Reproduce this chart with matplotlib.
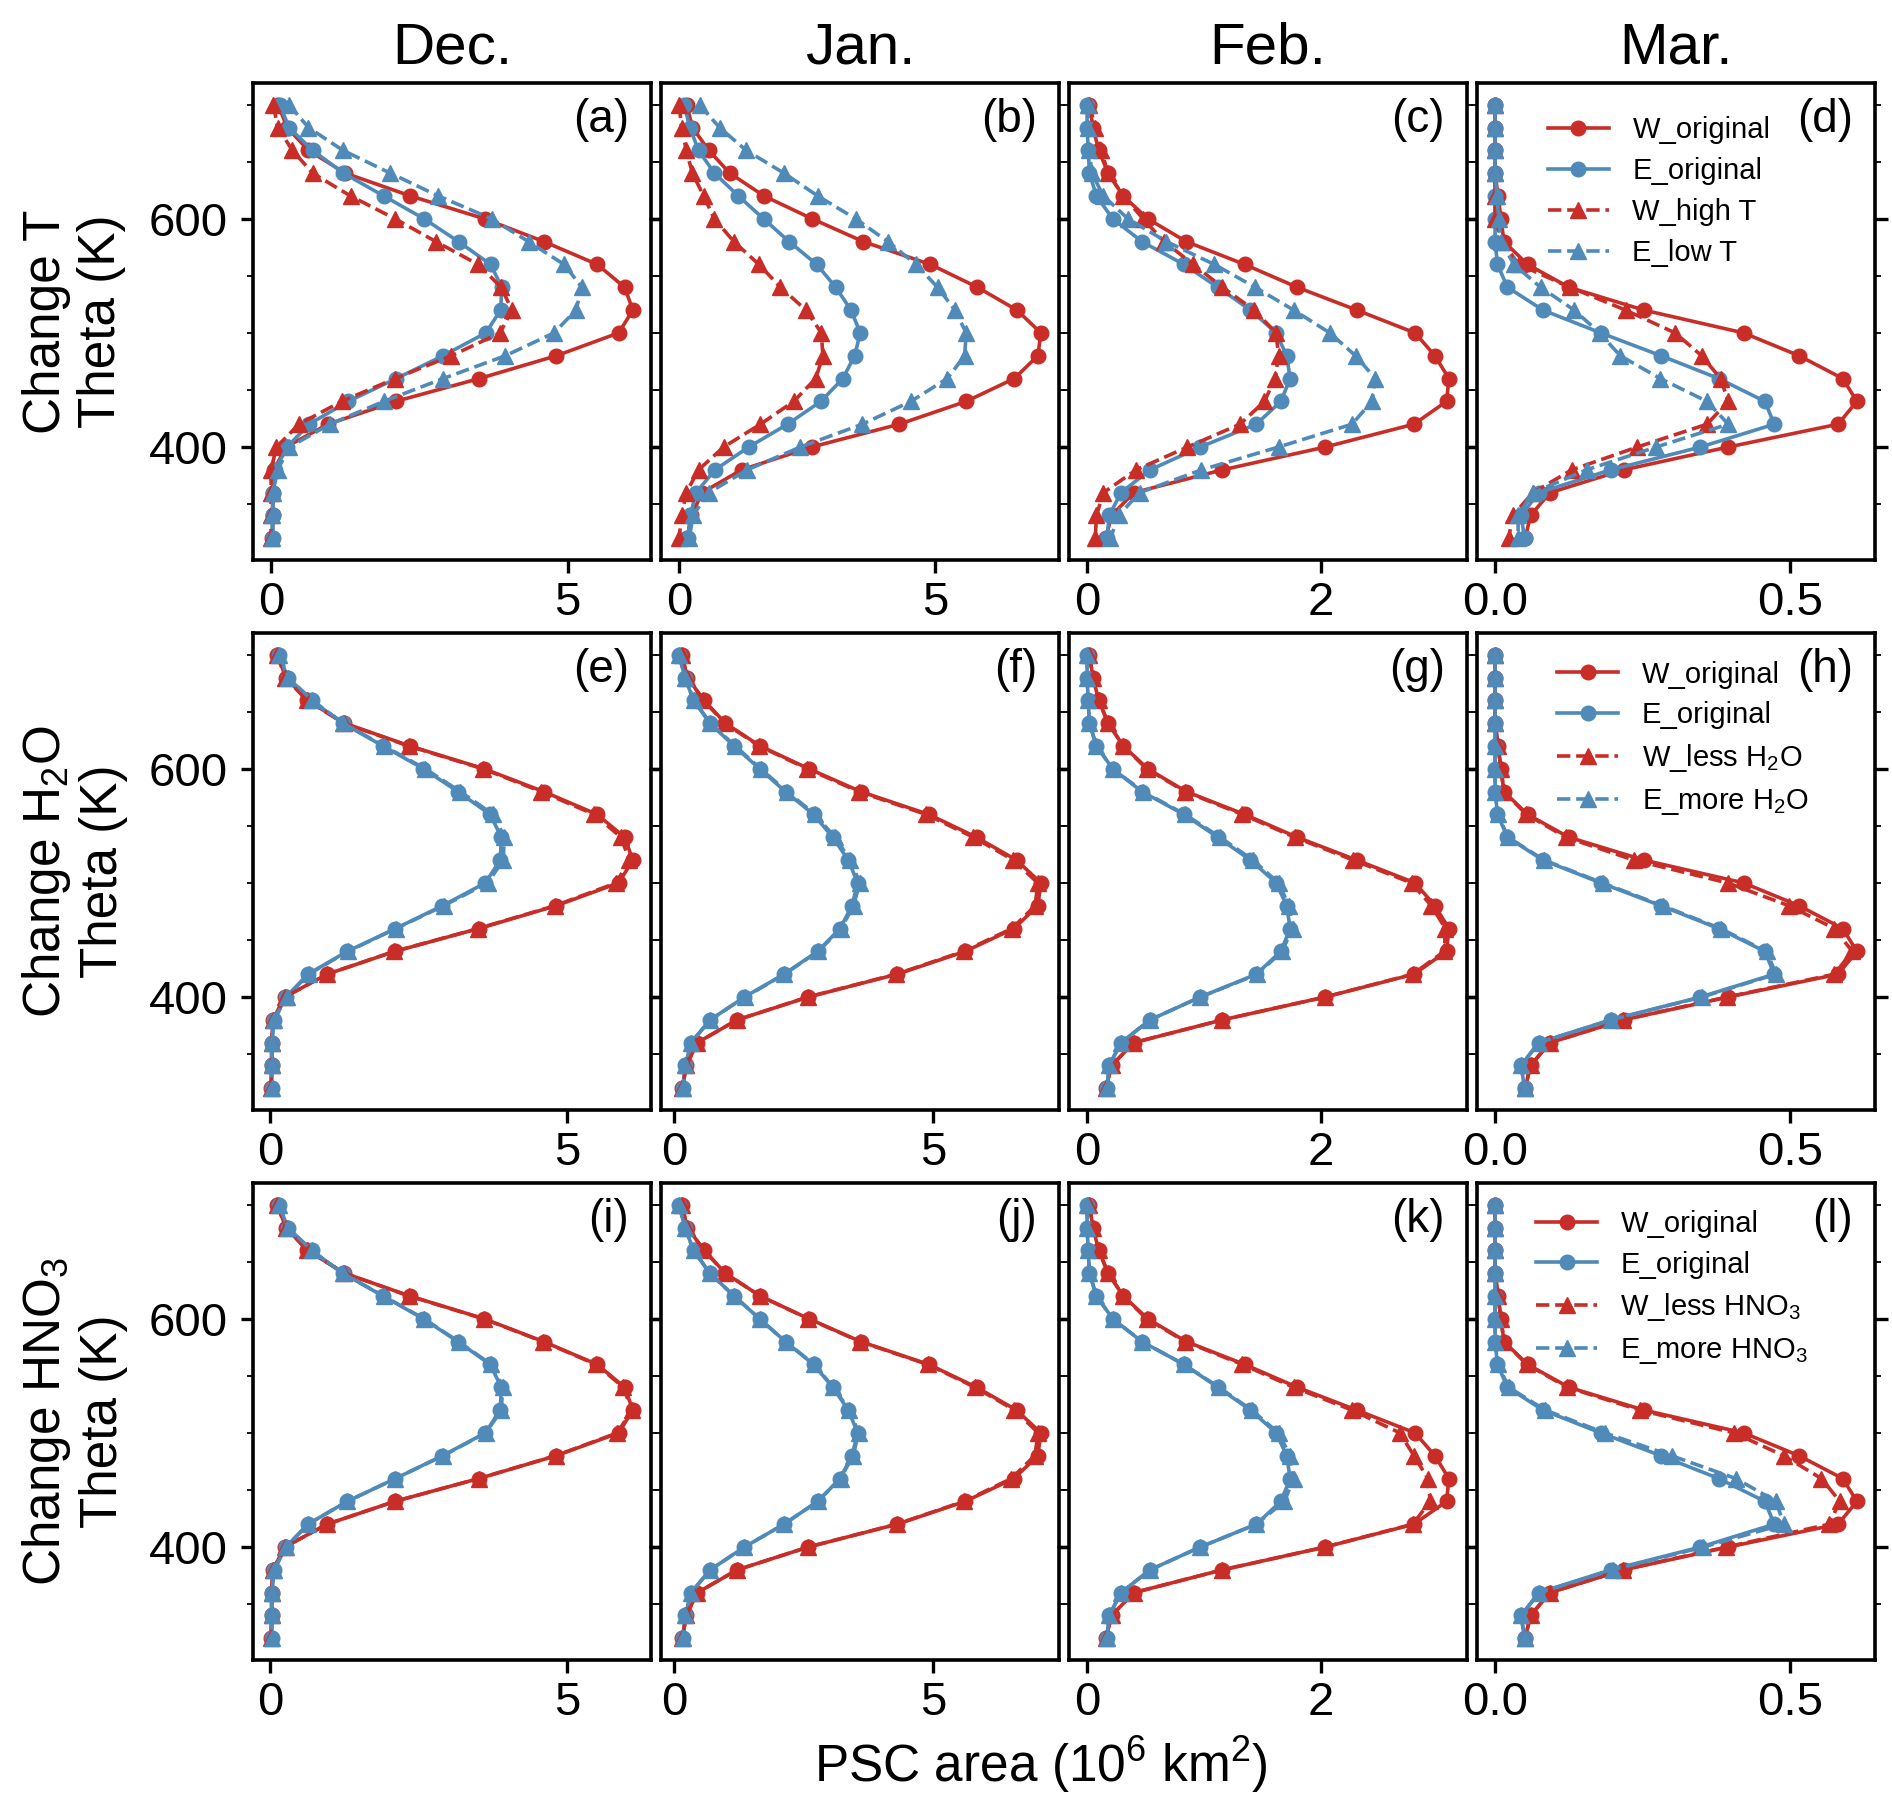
import numpy as np
import matplotlib.pyplot as plt
from matplotlib.ticker import MultipleLocator

plt.rcParams['font.family'] = ['Liberation Sans', 'DejaVu Sans']
plt.rcParams['mathtext.fontset'] = 'custom'
plt.rcParams['mathtext.rm'] = 'Liberation Sans'
plt.rcParams['mathtext.it'] = 'Liberation Sans:italic'
plt.rcParams['mathtext.default'] = 'regular'

# potential temperature levels (K), top to bottom
theta = [700, 680, 660, 640, 620, 600, 580, 560, 540, 520,
         500, 480, 460, 440, 420, 400, 380, 360, 340, 320]

months = ['Dec.', 'Jan.', 'Feb.', 'Mar.']
panel_tags = ['(a)', '(b)', '(c)', '(d)', '(e)', '(f)', '(g)', '(h)',
              '(i)', '(j)', '(k)', '(l)']
row_labels = ['Change T\nTheta (K)', 'Change H$_2$O\nTheta (K)',
              'Change HNO$_3$\nTheta (K)']
w_mod_labels = ['W_high T', 'W_less H$_2$O', 'W_less HNO$_3$']
e_mod_labels = ['E_low T', 'E_more H$_2$O', 'E_more HNO$_3$']
x_steps = [5, 5, 2, 0.5]

# PSC area (10^6 km^2)
dec_w_orig = [0.12, 0.27, 0.63, 1.25, 2.35, 3.60, 4.60, 5.50, 5.96, 6.10, 5.86, 4.81, 3.51, 2.10, 0.96, 0.25, 0.05, 0.03, 0.03, 0.02]
dec_e_orig = [0.15, 0.30, 0.70, 1.22, 1.90, 2.58, 3.16, 3.70, 3.89, 3.87, 3.62, 2.90, 2.11, 1.30, 0.64, 0.27, 0.07, 0.03, 0.03, 0.03]
dec_w_high_t = [0.04, 0.11, 0.36, 0.70, 1.34, 2.09, 2.78, 3.49, 3.88, 4.06, 3.86, 3.04, 2.09, 1.19, 0.47, 0.09, 0.00, 0.00, 0.00, 0.00]
dec_e_low_t = [0.30, 0.63, 1.21, 2.01, 2.82, 3.72, 4.34, 4.94, 5.24, 5.14, 4.77, 3.95, 2.90, 1.90, 0.99, 0.31, 0.11, 0.03, 0.02, 0.02]
dec_w_less_h2o = [0.12, 0.26, 0.62, 1.24, 2.33, 3.58, 4.56, 5.45, 5.90, 6.04, 5.82, 4.79, 3.50, 2.09, 0.96, 0.25, 0.05, 0.03, 0.03, 0.02]
dec_e_more_h2o = [0.16, 0.31, 0.71, 1.23, 1.92, 2.61, 3.20, 3.75, 3.94, 3.92, 3.66, 2.92, 2.12, 1.31, 0.65, 0.28, 0.07, 0.03, 0.03, 0.03]
dec_w_less_hno3 = [0.12, 0.27, 0.63, 1.25, 2.34, 3.59, 4.59, 5.48, 5.94, 6.08, 5.84, 4.80, 3.51, 2.10, 0.96, 0.25, 0.05, 0.03, 0.03, 0.02]
dec_e_more_hno3 = [0.15, 0.30, 0.70, 1.22, 1.91, 2.59, 3.17, 3.72, 3.91, 3.89, 3.63, 2.91, 2.11, 1.30, 0.64, 0.27, 0.07, 0.03, 0.03, 0.03]

jan_w_orig = [0.15, 0.26, 0.58, 0.99, 1.66, 2.60, 3.60, 4.91, 5.83, 6.60, 7.07, 7.01, 6.55, 5.61, 4.30, 2.59, 1.22, 0.45, 0.24, 0.16]
jan_e_orig = [0.10, 0.21, 0.38, 0.69, 1.16, 1.65, 2.15, 2.69, 3.06, 3.36, 3.54, 3.43, 3.20, 2.77, 2.12, 1.36, 0.70, 0.33, 0.22, 0.17]
jan_w_high_t = [0.00, 0.05, 0.14, 0.26, 0.48, 0.69, 1.07, 1.56, 1.98, 2.48, 2.78, 2.81, 2.67, 2.24, 1.59, 0.87, 0.38, 0.14, 0.05, 0.00]
jan_e_low_t = [0.40, 0.79, 1.31, 2.05, 2.71, 3.45, 4.08, 4.63, 5.05, 5.39, 5.61, 5.58, 5.24, 4.53, 3.58, 2.37, 1.33, 0.58, 0.27, 0.20]
jan_w_less_h2o = [0.15, 0.26, 0.57, 0.98, 1.64, 2.57, 3.56, 4.86, 5.77, 6.54, 7.01, 6.96, 6.51, 5.58, 4.28, 2.58, 1.22, 0.45, 0.24, 0.16]
jan_e_more_h2o = [0.10, 0.21, 0.39, 0.70, 1.18, 1.67, 2.18, 2.72, 3.10, 3.40, 3.58, 3.46, 3.22, 2.78, 2.13, 1.37, 0.70, 0.33, 0.22, 0.17]
jan_w_less_hno3 = [0.15, 0.26, 0.58, 0.99, 1.66, 2.59, 3.59, 4.89, 5.80, 6.56, 7.02, 6.95, 6.50, 5.59, 4.29, 2.59, 1.22, 0.45, 0.24, 0.16]
jan_e_more_hno3 = [0.10, 0.21, 0.38, 0.69, 1.16, 1.65, 2.15, 2.70, 3.07, 3.38, 3.56, 3.45, 3.21, 2.77, 2.12, 1.36, 0.70, 0.33, 0.22, 0.17]

feb_w_orig = [0.02, 0.05, 0.10, 0.18, 0.31, 0.52, 0.85, 1.35, 1.80, 2.31, 2.81, 2.98, 3.10, 3.08, 2.80, 2.04, 1.16, 0.40, 0.21, 0.16]
feb_e_orig = [0.00, 0.00, 0.01, 0.02, 0.08, 0.22, 0.47, 0.83, 1.12, 1.40, 1.62, 1.71, 1.74, 1.66, 1.45, 0.97, 0.54, 0.29, 0.19, 0.17]
feb_w_high_t = [0.02, 0.07, 0.12, 0.18, 0.31, 0.48, 0.66, 0.91, 1.16, 1.43, 1.62, 1.64, 1.61, 1.52, 1.31, 0.86, 0.42, 0.14, 0.08, 0.07]
feb_e_low_t = [0.01, 0.01, 0.02, 0.04, 0.14, 0.35, 0.68, 1.09, 1.44, 1.77, 2.08, 2.30, 2.47, 2.44, 2.27, 1.64, 0.98, 0.45, 0.27, 0.20]
feb_w_less_h2o = [0.02, 0.05, 0.10, 0.18, 0.31, 0.51, 0.84, 1.33, 1.78, 2.28, 2.78, 2.95, 3.07, 3.06, 2.79, 2.04, 1.16, 0.40, 0.21, 0.16]
feb_e_more_h2o = [0.00, 0.00, 0.01, 0.02, 0.08, 0.22, 0.48, 0.84, 1.14, 1.42, 1.64, 1.73, 1.76, 1.67, 1.46, 0.97, 0.54, 0.29, 0.19, 0.17]
feb_w_less_hno3 = [0.02, 0.05, 0.10, 0.18, 0.31, 0.51, 0.84, 1.33, 1.77, 2.27, 2.68, 2.80, 2.92, 2.94, 2.79, 2.04, 1.16, 0.40, 0.21, 0.16]
feb_e_more_hno3 = [0.00, 0.00, 0.01, 0.02, 0.08, 0.22, 0.47, 0.83, 1.13, 1.41, 1.64, 1.74, 1.77, 1.69, 1.45, 0.97, 0.54, 0.29, 0.19, 0.17]

mar_w_orig = [0.0, 0.0, 0.0, 0.0, 0.005, 0.010, 0.015, 0.055, 0.125, 0.252, 0.421, 0.515, 0.589, 0.613, 0.581, 0.395, 0.218, 0.093, 0.060, 0.051]
mar_e_orig = [0.0, 0.0, 0.0, 0.0, 0.0, 0.0, 0.0, 0.004, 0.021, 0.081, 0.179, 0.281, 0.379, 0.457, 0.473, 0.348, 0.196, 0.074, 0.044, 0.050]
mar_w_high_t = [0.0, 0.0, 0.0, 0.0, 0.0, 0.0, 0.012, 0.040, 0.127, 0.221, 0.305, 0.350, 0.382, 0.395, 0.359, 0.241, 0.130, 0.064, 0.030, 0.023]
mar_e_low_t = [0.0, 0.0, 0.0, 0.0, 0.003, 0.006, 0.010, 0.032, 0.077, 0.134, 0.177, 0.212, 0.280, 0.359, 0.395, 0.273, 0.155, 0.064, 0.039, 0.039]
mar_w_less_h2o = [0.0, 0.0, 0.0, 0.0, 0.005, 0.010, 0.015, 0.053, 0.120, 0.235, 0.394, 0.498, 0.575, 0.605, 0.575, 0.393, 0.217, 0.093, 0.060, 0.051]
mar_e_more_h2o = [0.0, 0.0, 0.0, 0.0, 0.0, 0.0, 0.0, 0.005, 0.022, 0.083, 0.182, 0.284, 0.382, 0.460, 0.476, 0.350, 0.197, 0.074, 0.044, 0.050]
mar_w_less_hno3 = [0.0, 0.0, 0.0, 0.0, 0.005, 0.010, 0.015, 0.054, 0.122, 0.245, 0.405, 0.489, 0.553, 0.584, 0.566, 0.392, 0.216, 0.093, 0.060, 0.051]
mar_e_more_hno3 = [0.0, 0.0, 0.0, 0.0, 0.0, 0.0, 0.0, 0.005, 0.023, 0.085, 0.186, 0.299, 0.408, 0.476, 0.489, 0.353, 0.199, 0.075, 0.044, 0.050]

w_orig = [dec_w_orig, jan_w_orig, feb_w_orig, mar_w_orig]
e_orig = [dec_e_orig, jan_e_orig, feb_e_orig, mar_e_orig]
w_mod = [[dec_w_high_t, jan_w_high_t, feb_w_high_t, mar_w_high_t],
         [dec_w_less_h2o, jan_w_less_h2o, feb_w_less_h2o, mar_w_less_h2o],
         [dec_w_less_hno3, jan_w_less_hno3, feb_w_less_hno3, mar_w_less_hno3]]
e_mod = [[dec_e_low_t, jan_e_low_t, feb_e_low_t, mar_e_low_t],
         [dec_e_more_h2o, jan_e_more_h2o, feb_e_more_h2o, mar_e_more_h2o],
         [dec_e_more_hno3, jan_e_more_hno3, feb_e_more_hno3, mar_e_more_hno3]]

RED = '#c92d27'
BLUE = '#4f8ab9'

W, H = 1892, 1804
fig = plt.figure(figsize=(W / 100, H / 100), dpi=100)

col_left = [253, 661, 1069, 1477]
row_top = [83, 633, 1183]
ax_w, ax_h = 398, 477
legend_pos = [(0.178, 0.930), (0.201, 0.942), (0.148, 0.944)]

for r in range(3):
    for c in range(4):
        ax = fig.add_axes([col_left[c] / W, 1 - (row_top[r] + ax_h) / H, ax_w / W, ax_h / H])
        ax.plot(w_orig[c], theta, color=RED, ls='-', lw=2.6, marker='o', ms=10.5, label='W_original')
        ax.plot(e_orig[c], theta, color=BLUE, ls='-', lw=2.6, marker='o', ms=10.5, label='E_original')
        ax.plot(w_mod[r][c], theta, color=RED, ls='--', lw=2.6, marker='^', ms=11, label=w_mod_labels[r])
        ax.plot(e_mod[r][c], theta, color=BLUE, ls='--', lw=2.6, marker='^', ms=11, label=e_mod_labels[r])

        for sp in ax.spines.values():
            sp.set_linewidth(2.6)
        ax.xaxis.set_major_locator(MultipleLocator(x_steps[c]))
        ax.yaxis.set_major_locator(MultipleLocator(200))
        ax.yaxis.set_minor_locator(MultipleLocator(50))
        ax.tick_params(axis='y', which='both', left=True, right=True, direction='out')
        ax.tick_params(axis='y', which='major', length=9, width=2.4, pad=9, labelsize=34)
        ax.tick_params(axis='y', which='minor', length=4.5, width=1.3)
        ax.tick_params(axis='x', which='major', length=9, width=2.4, pad=6, labelsize=34)
        if c > 0:
            ax.tick_params(axis='y', labelleft=False)

        ax.text(0.945, 0.968, panel_tags[r * 4 + c], transform=ax.transAxes,
                ha='right', va='top', fontsize=33)
        if r == 0:
            ax.set_title(months[c], fontsize=42, pad=14)
        if c == 3:
            ax.legend(loc='upper left', bbox_to_anchor=legend_pos[r], frameon=False,
                      fontsize=21, borderaxespad=0, borderpad=0, labelspacing=0.44,
                      handlelength=2.1, handletextpad=0.8)

    yc = 1 - (row_top[r] + ax_h / 2) / H
    fig.text(0.039, yc, row_labels[r], rotation=90, ha='center', va='center',
             multialignment='center', fontsize=37, linespacing=1.15)

fig.text(0.55, 0.012, 'PSC area (10$^6$ km$^2$)', ha='center', va='baseline', fontsize=37)

fig.savefig('out.png', dpi=100)
